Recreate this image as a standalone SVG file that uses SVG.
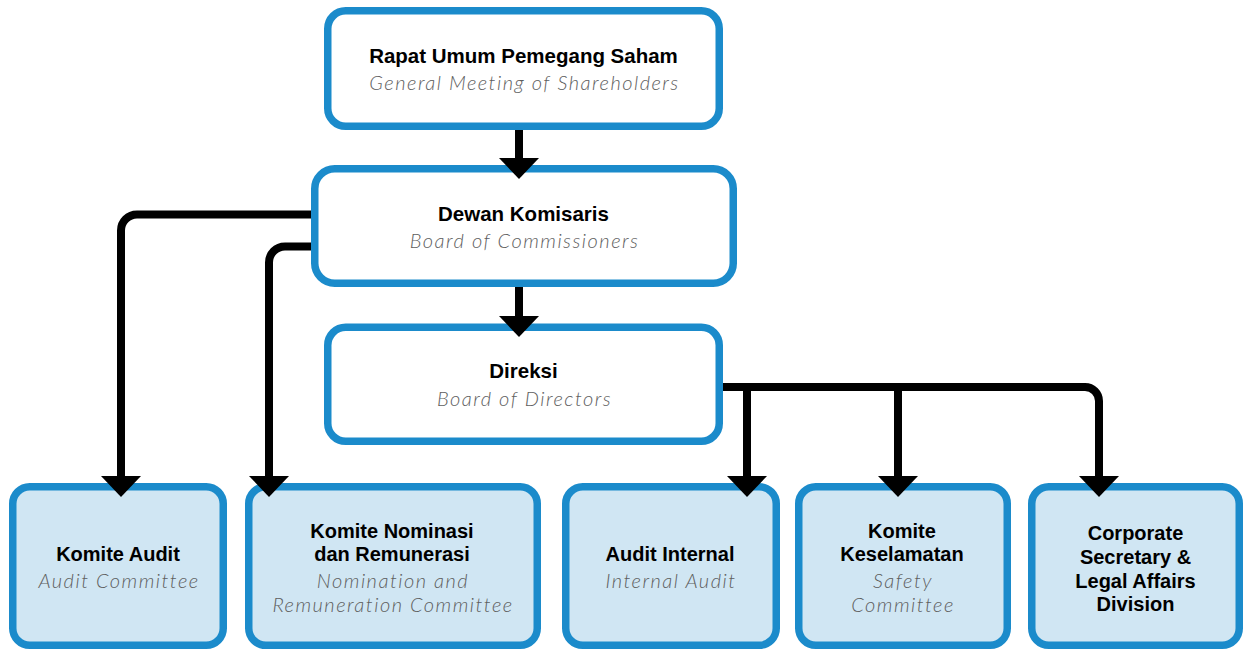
<svg xmlns="http://www.w3.org/2000/svg" width="1244" height="650" viewBox="0 0 1244 650">
  <style>
    .box { fill: #ffffff; stroke: #1b8bcb; stroke-width: 7.5; }
    .sub { fill: #d0e6f3; }
    .t { font-family: "Liberation Sans", Arial, sans-serif; font-weight: bold; fill: #000; text-anchor: middle; }
    .t1 { font-size: 20.5px; }
    .t2 { font-size: 20px; }
    .en { font-family: Lato, "Open Sans", sans-serif; font-style: italic; font-weight: 300; fill: #5e5e5e; text-anchor: middle; font-size: 20px; letter-spacing: 1.5px; }
    .wire { fill: none; stroke: #000; stroke-width: 8; }
  </style>
  <defs>
    <marker id="arrow" markerUnits="userSpaceOnUse" viewBox="0 0 21 40" refX="0" refY="20" markerWidth="21" markerHeight="40" orient="auto">
      <path d="M0,0 L21,20 L0,40 Z" fill="#000"/>
    </marker>
  </defs>

  <g id="rups">
    <rect class="box" x="327.75" y="10.75" width="391.5" height="115.5" rx="18"/>
    <text class="t t1" x="523.5" y="63">Rapat Umum Pemegang Saham</text>
    <text class="en" x="524.5" y="90">General Meeting of Shareholders</text>
  </g>

  <g id="dewan-komisaris">
    <rect class="box" x="314.75" y="168.75" width="418.5" height="114.5" rx="20"/>
    <text class="t t1" x="523.5" y="221">Dewan Komisaris</text>
    <text class="en" x="524.5" y="248">Board of Commissioners</text>
  </g>

  <g id="direksi">
    <rect class="box" x="327.75" y="327.25" width="391.5" height="114" rx="18"/>
    <text class="t t1" x="523.5" y="378">Direksi</text>
    <text class="en" x="524.5" y="406">Board of Directors</text>
  </g>

  <g id="komite-audit">
    <rect class="box sub" x="12.75" y="486.75" width="210.5" height="158.5" rx="17"/>
    <text class="t t2" x="118" y="561">Komite Audit</text>
    <text class="en" x="119" y="588">Audit Committee</text>
  </g>

  <g id="komite-nominasi">
    <rect class="box sub" x="248.75" y="486.75" width="288.5" height="158.5" rx="17"/>
    <text class="t t2" x="392" y="537.5">Komite Nominasi</text>
    <text class="t t2" x="392" y="561">dan Remunerasi</text>
    <text class="en" x="393" y="588">Nomination and</text>
    <text class="en" x="393" y="612">Remuneration Committee</text>
  </g>

  <g id="audit-internal">
    <rect class="box sub" x="565.75" y="486.75" width="210.5" height="158.5" rx="17"/>
    <text class="t t2" x="670" y="561">Audit Internal</text>
    <text class="en" x="671" y="588">Internal Audit</text>
  </g>

  <g id="komite-keselamatan">
    <rect class="box sub" x="798.75" y="486.75" width="208.5" height="158.5" rx="17"/>
    <text class="t t2" x="902" y="537.5">Komite</text>
    <text class="t t2" x="902" y="561">Keselamatan</text>
    <text class="en" x="903" y="588">Safety</text>
    <text class="en" x="903" y="612">Committee</text>
  </g>

  <g id="corporate-secretary">
    <rect class="box sub" x="1031.75" y="486.75" width="207.5" height="158.5" rx="17"/>
    <text class="t t2" x="1135.5" y="539.5">Corporate</text>
    <text class="t t2" x="1135.5" y="563.5">Secretary &amp;</text>
    <text class="t t2" x="1135.5" y="587.5">Legal Affairs</text>
    <text class="t t2" x="1135.5" y="611">Division</text>
  </g>

  <!-- connectors sit on top so the arrowheads overlap the box borders -->
  <g id="connectors">
    <path class="wire" d="M519,130 V158" marker-end="url(#arrow)"/>
    <path class="wire" d="M519,287 V316" marker-end="url(#arrow)"/>
    <path class="wire" d="M311,214.5 H137 A16,16 0 0 0 121,230.5 V476" marker-end="url(#arrow)"/>
    <path class="wire" d="M311,246.5 H285 A16,16 0 0 0 269,262.5 V476" marker-end="url(#arrow)"/>
    <path class="wire" d="M723,387 H1085 A14,14 0 0 1 1099,401 V476" marker-end="url(#arrow)"/>
    <path class="wire" d="M747,387 V476" marker-end="url(#arrow)"/>
    <path class="wire" d="M898,387 V476" marker-end="url(#arrow)"/>
  </g>
</svg>
